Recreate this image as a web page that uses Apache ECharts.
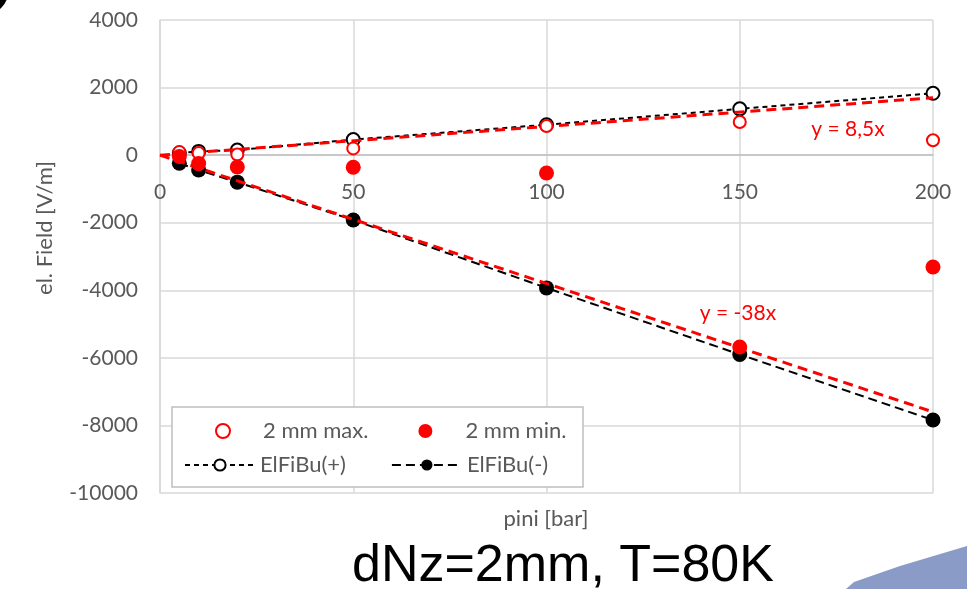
<!DOCTYPE html>
<html>
<head>
<meta charset="utf-8">
<script src="https://cdn.jsdelivr.net/npm/echarts@6/dist/echarts.min.js"></script>
<style>
  html, body { margin: 0; padding: 0; background: #ffffff; }
  #chart { width: 967px; height: 589px; }
</style>
</head>
<body>
<div id="chart"></div>
<script>
  // pressure values (bar)
  const pressure = [5, 10, 20, 50, 100, 150, 200];
  // measured field, 2 mm gap
  const max2mm = [90, 60, 20, 200, 860, 980, 440];
  const min2mm = [-40, -250, -350, -360, -530, -5680, -3310];
  // simulated (ElFiBu)
  const elfibuPlus = [60, 110, 150, 460, 900, 1370, 1830];
  const elfibuMinus = [-240, -440, -800, -1920, -3930, -5900, -7840];
  // linear fits, end points
  const fitX = [0, 200];
  const fitUp = [0, 1700];
  const fitDown = [0, -7600];
  const xTicks = [0, 50, 100, 150, 200];
  const yTicks = [-10000, -8000, -6000, -4000, -2000, 0, 2000, 4000];

  const pairs = (xs, ys) => xs.map((x, i) => [x, ys[i]]);
  const grey = '#595959';
  const font = 'Lato';
  const legendText = { color: grey, fontFamily: font, fontSize: 22, width: 120 };

  const myChart = echarts.init(document.getElementById('chart'));
  myChart.setOption({
    animation: false,
    grid: { left: 160, right: 34, top: 20, bottom: 96 },
    xAxis: [
      {
        type: 'value',
        min: xTicks[0],
        max: xTicks[xTicks.length - 1],
        interval: 50,
        axisLine: { onZero: true, lineStyle: { color: '#bfbfbf', width: 1.5 } },
        axisTick: { show: false },
        axisLabel: { show: false },
        splitLine: { show: true, lineStyle: { color: '#d9d9d9', width: 1.5 } },
      },
      {
        // label row sitting under the zero line
        type: 'value',
        position: 'bottom',
        offset: -338,
        min: xTicks[0],
        max: xTicks[xTicks.length - 1],
        interval: 50,
        axisLine: { show: false },
        axisTick: { show: false },
        splitLine: { show: false },
        axisLabel: { color: grey, fontFamily: font, fontSize: 21, margin: 27 },
      },
    ],
    yAxis: {
      type: 'value',
      min: yTicks[0],
      max: yTicks[yTicks.length - 1],
      interval: 2000,
      axisLine: { show: true, onZero: false, lineStyle: { color: '#d9d9d9', width: 1.5 } },
      axisTick: { show: false },
      axisLabel: {
        color: grey,
        fontFamily: font,
        fontSize: 21,
        margin: 22,
        formatter: (v) => String(v),
      },
      splitLine: { lineStyle: { color: '#d9d9d9', width: 1.5 } },
    },
    legend: [
      {
        left: 210,
        top: 415,
        z: 10,
        itemWidth: 70,
        itemHeight: 14,
        itemGap: 50,
        data: ['2 mm max.', '2 mm min.'],
        textStyle: legendText,
      },
      {
        left: 179,
        top: 449,
        z: 10,
        itemWidth: 70,
        itemHeight: 14,
        itemGap: 45,
        data: ['ElFiBu(+)', 'ElFiBu(-)'],
        textStyle: legendText,
      },
    ],
    graphic: [
      {
        type: 'rect',
        z: 3,
        shape: { x: 172, y: 407, width: 411, height: 80 },
        style: { fill: '#ffffff', stroke: '#bfbfbf', lineWidth: 1.5 },
      },
      {
        type: 'text',
        x: 45,
        y: 228,
        rotation: Math.PI / 2,
        style: {
          text: 'el. Field [V/m]',
          fill: grey,
          font: '22px Lato',
          align: 'center',
          verticalAlign: 'middle',
        },
      },
      {
        type: 'text',
        x: 546,
        y: 519,
        style: {
          text: 'pini [bar]',
          fill: grey,
          font: '22px Lato',
          align: 'center',
          verticalAlign: 'middle',
        },
      },
      {
        type: 'text',
        x: 563,
        y: 567,
        style: {
          text: 'dNz=2mm, T=80K',
          fill: '#000000',
          font: '52px "Liberation Sans"',
          align: 'center',
          verticalAlign: 'middle',
        },
      },
      {
        type: 'text',
        x: 848,
        y: 129,
        z: 20,
        style: {
          text: 'y = 8,5x',
          fill: '#ff0000',
          font: '21px Lato',
          align: 'center',
          verticalAlign: 'middle',
        },
      },
      {
        type: 'text',
        x: 738,
        y: 313,
        z: 20,
        style: {
          text: 'y = -38x',
          fill: '#ff0000',
          font: '21px Lato',
          align: 'center',
          verticalAlign: 'middle',
        },
      },
      {
        type: 'circle',
        shape: { cx: -14, cy: -8, r: 22 },
        style: { fill: '#000000' },
      },
      {
        type: 'polygon',
        shape: {
          points: [[846, 589], [854, 582], [900, 566], [967, 546], [967, 589]],
        },
        style: { fill: '#8a9bc8' },
      },
    ],
    series: [
      {
        name: 'ElFiBu(+)',
        type: 'line',
        z: 2,
        data: pairs(pressure, elfibuPlus),
        color: '#000000',
        symbol: 'emptyCircle',
        symbolSize: 13,
        lineStyle: { color: '#000000', width: 2, type: [5, 4] },
        itemStyle: { color: '#000000', borderWidth: 2.5 },
      },
      {
        name: 'ElFiBu(-)',
        type: 'line',
        z: 2,
        data: pairs(pressure, elfibuMinus),
        color: '#000000',
        symbol: 'circle',
        symbolSize: 15,
        lineStyle: { color: '#000000', width: 2, type: [9, 5] },
        itemStyle: { color: '#000000' },
      },
      {
        name: 'fit up',
        type: 'line',
        z: 3,
        data: pairs(fitX, fitUp),
        symbol: 'none',
        lineStyle: { color: '#ff0000', width: 3, type: [10, 6] },
      },
      {
        name: 'fit down',
        type: 'line',
        z: 3,
        data: pairs(fitX, fitDown),
        symbol: 'none',
        lineStyle: { color: '#ff0000', width: 3, type: [10, 6] },
      },
      {
        name: '2 mm max.',
        type: 'scatter',
        z: 4,
        data: pairs(pressure, max2mm),
        color: '#ff0000',
        symbol: 'emptyCircle',
        symbolSize: 12,
        itemStyle: { color: '#ff0000', borderColor: '#ff0000', borderWidth: 3, opacity: 1 },
      },
      {
        name: '2 mm min.',
        type: 'scatter',
        z: 4,
        data: pairs(pressure, min2mm),
        color: '#ff0000',
        symbol: 'circle',
        symbolSize: 15,
        itemStyle: { color: '#ff0000', opacity: 1 },
      },
    ],
  });
</script>
</body>
</html>
